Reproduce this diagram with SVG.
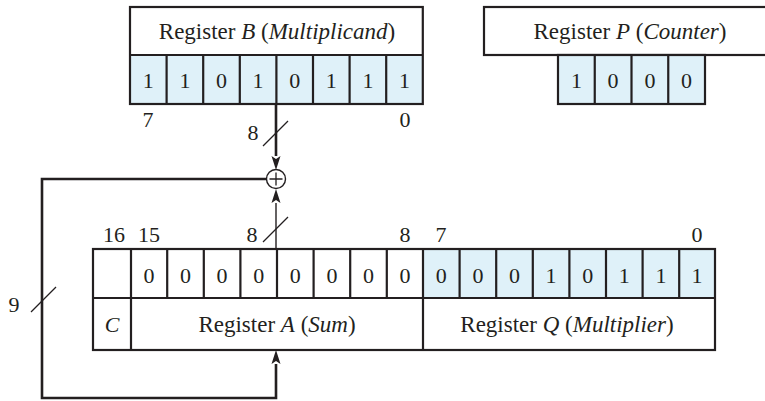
<svg xmlns="http://www.w3.org/2000/svg" width="765" height="401" viewBox="0 0 765 401" font-family="'Liberation Serif', 'DejaVu Serif', serif">
<defs>
<style>
text{font-family:'Liberation Serif','DejaVu Serif',serif;font-size:22px;fill:#231f20;text-anchor:middle}
.lbl{font-size:23px}
.i{font-style:italic}
.box{fill:#fff;stroke:#231f20;stroke-width:2.2}
.cell{fill:#dff1f9;stroke:none}
.div{stroke:#231f20;stroke-width:2.2;fill:none}
.thick{stroke:#231f20;stroke-width:2.6;fill:none}
.thin{stroke:#231f20;stroke-width:1.4;fill:none}
.slash{stroke:#231f20;stroke-width:1.3}
</style>
<marker id="ah" markerUnits="userSpaceOnUse" markerWidth="16" markerHeight="12" refX="0" refY="5" orient="auto" viewBox="0 0 16 10">
<path d="M0,0.5 L14,5 L0,9.5 L3,5 Z" fill="#231f20"/>
</marker>
</defs>
<rect width="765" height="401" fill="#fff"/>

<g id="regB">
<rect x="130" y="55" width="292.8" height="49" class="cell"/>
<rect x="130" y="7" width="292.8" height="97" class="div"/>
<line x1="130" y1="55" x2="422.8" y2="55" class="div"/>
<path class="div" d="M166.6,55V104M203.2,55V104M239.8,55V104M276.4,55V104M313,55V104M349.6,55V104M386.2,55V104"/>
<text x="277" y="39" class="lbl">Register <tspan class="i">B</tspan> (<tspan class="i">Multiplicand</tspan>)</text>
<text x="148.3" y="88">1</text><text x="184.9" y="88">1</text><text x="221.5" y="88">0</text><text x="258.1" y="88">1</text>
<text x="294.7" y="88">0</text><text x="331.3" y="88">1</text><text x="367.9" y="88">1</text><text x="404.5" y="88">1</text>
<text x="148" y="127">7</text><text x="405" y="127">0</text>
</g>

<g id="regP">
<rect x="484" y="7" width="320" height="48" class="box"/>
<rect x="558" y="55" width="147" height="49" class="cell"/>
<rect x="558" y="55" width="147" height="49" class="div"/>
<path class="div" d="M594.75,55V104M631.5,55V104M668.25,55V104"/>
<text x="630" y="39" class="lbl">Register <tspan class="i">P</tspan> (<tspan class="i">Counter</tspan>)</text>
<text x="576.4" y="88">1</text><text x="613.1" y="88">0</text><text x="649.9" y="88">0</text><text x="686.6" y="88">0</text>
</g>

<g id="regAQ">
<rect x="423" y="249" width="292" height="49" class="cell"/>
<rect x="93" y="249" width="622" height="101" class="div"/>
<line x1="93" y1="298" x2="715" y2="298" class="div"/>
<path class="div" d="M131,249V350M167.2,249V298M203.8,249V298M240.4,249V298M277,249V298M313.6,249V298M350.2,249V298M386.8,249V298M423,249V350M459.6,249V298M496.2,249V298M532.8,249V298M569.4,249V298M606,249V298M642.6,249V298M679.2,249V298"/>
<text x="149" y="283">0</text><text x="185.5" y="283">0</text><text x="222.1" y="283">0</text><text x="258.7" y="283">0</text>
<text x="295.3" y="283">0</text><text x="331.9" y="283">0</text><text x="368.5" y="283">0</text><text x="405" y="283">0</text>
<text x="441.3" y="283">0</text><text x="477.9" y="283">0</text><text x="514.5" y="283">0</text><text x="551.1" y="283">1</text>
<text x="587.7" y="283">0</text><text x="624.3" y="283">1</text><text x="660.9" y="283">1</text><text x="697.1" y="283">1</text>
<text x="112" y="332" class="i">C</text>
<text x="277" y="332" class="lbl">Register <tspan class="i">A</tspan> (<tspan class="i">Sum</tspan>)</text>
<text x="567" y="332" class="lbl">Register <tspan class="i">Q</tspan> (<tspan class="i">Multiplier</tspan>)</text>
<text x="114" y="242">16</text><text x="149" y="242">15</text><text x="405" y="242">8</text>
<text x="441" y="242">7</text><text x="697" y="242">0</text>
</g>

<g id="adder">
<circle cx="276" cy="179" r="9.5" fill="#fff" stroke="#231f20" stroke-width="1.4"/>
<path d="M269.5,179H282.5M276,172.5V185.5" stroke="#231f20" stroke-width="1.3"/>
</g>

<g id="connectors">
<line x1="276" y1="104" x2="276" y2="156" class="thick" marker-end="url(#ah)"/>
<line x1="276" y1="249" x2="276" y2="203" class="thin" marker-end="url(#ah)"/>
<polyline points="266.5,179 42,179 42,398 276,398 276,364" class="thick" marker-end="url(#ah)"/>
<line x1="263" y1="146" x2="288" y2="121" class="slash"/>
<line x1="263" y1="242" x2="288" y2="217" class="slash"/>
<line x1="31" y1="312" x2="56" y2="287" class="slash"/>
<text x="253" y="140">8</text>
<text x="252" y="242">8</text>
<text x="14" y="312">9</text>
</g>
</svg>
